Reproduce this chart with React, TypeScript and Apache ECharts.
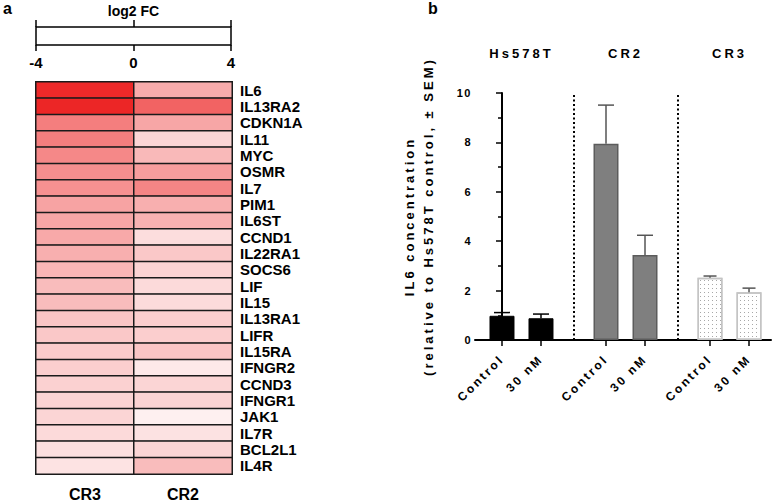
import React, { useEffect, useRef } from 'react';
import * as echarts from 'echarts';

// ---------- Panel a: heatmap data ----------
const genes = ['IL6', 'IL13RA2', 'CDKN1A', 'IL11', 'MYC', 'OSMR', 'IL7', 'PIM1', 'IL6ST', 'CCND1', 'IL22RA1', 'SOCS6', 'LIF', 'IL15', 'IL13RA1', 'LIFR', 'IL15RA', 'IFNGR2', 'CCND3', 'IFNGR1', 'JAK1', 'IL7R', 'BCL2L1', 'IL4R'];
const heatColumns = ['CR3', 'CR2'];
const log2fcCR3 = [3.5, 3.55, 2.1, 2.1, 1.95, 1.85, 1.8, 1.5, 1.45, 1.4, 1.3, 1.2, 1.1, 1.1, 0.95, 0.9, 0.85, 0.8, 0.75, 0.72, 0.68, 0.6, 0.52, 0.45];
const log2fcCR2 = [1.35, 2.55, 1.45, 0.68, 1.15, 1.6, 2.0, 1.3, 1.25, 0.55, 0.9, 0.72, 0.6, 0.58, 0.8, 0.8, 0.95, 0.36, 0.68, 0.72, 0.24, 0.48, 0.68, 1.1];
const scaleMin = -4;
const scaleMax = 4;
const scaleStep = 4;

// ---------- Panel b: bar data ----------
const cellLines = ['Hs578T', 'CR2', 'CR3'];
const treatments = ['Control', '30 nM'];
const il6Mean = [0.98, 0.88, 7.95, 3.44, 2.52, 1.93];
const il6Sem = [0.13, 0.17, 1.56, 0.8, 0.07, 0.17];
const yTitle = 'IL6 concentration\n(relative to Hs578T control, ± SEM)';

const FONT = '"Liberation Sans", Arial, sans-serif';
const GROUP_STEP = 8 / 3;
const X_MIN = -0.692;
const X_MAX = 6.897;

const groupStyles = [
  { color: '#000000', borderColor: '#000000', borderWidth: 1 },
  { color: '#7f7f7f', borderColor: '#5c5c5c', borderWidth: 1.5 },
  {
    color: '#ffffff', borderColor: '#c4c4c4', borderWidth: 1.5,
    decal: { symbol: 'rect', symbolSize: 1, color: '#a8a8a8', backgroundColor: '#ffffff', dashArrayX: [1, 3], dashArrayY: [1, 3] },
  },
];
const errColors = ['#000000', '#555555', '#555555'];
const capHalf = [8, 8, 6.5];

export default function App() {
  const ref = useRef<HTMLDivElement>(null);

  useEffect(() => {
    if (!ref.current) return;
    const chart = echarts.init(ref.current, undefined, { renderer: 'svg' });

    const heatData: any[] = [];
    genes.forEach((g, i) => {
      heatData.push([0, i, log2fcCR3[i]]);
      heatData.push([1, i, log2fcCR2[i]]);
    });

    const positions: number[] = [];
    const barData: any[] = [];
    const errData: any[] = [];
    cellLines.forEach((cl, g) => {
      treatments.forEach((t, i) => {
        const k = g * treatments.length + i;
        const pos = g * GROUP_STEP + i;
        positions.push(pos);
        barData.push({ value: [pos, il6Mean[k]], itemStyle: groupStyles[g] });
        errData.push([pos, il6Mean[k], il6Sem[k], g]);
      });
    });
    const groupCenters = cellLines.map((_, g) => g * GROUP_STEP + (treatments.length - 1) / 2);
    const separators = cellLines.slice(1).map((_, g) => (g * GROUP_STEP + (treatments.length - 1) + (g + 1) * GROUP_STEP) / 2);

    const nearestIdx = (arr: number[], v: number) => {
      let best = 0;
      arr.forEach((p, i) => { if (Math.abs(p - v) < Math.abs(arr[best] - v)) best = i; });
      return best;
    };

    const boldText = { fontFamily: FONT, fontWeight: 'bold' as const, color: '#000' };

    const option: any = {
      animation: false,
      textStyle: { fontFamily: FONT },
      title: [
        { text: 'a', left: 3, top: 0, padding: 0, textStyle: { ...boldText, fontSize: 16 } },
        { text: 'b', left: 428, top: 0, padding: 0, textStyle: { ...boldText, fontSize: 16 } },
      ],
      grid: [
        { left: 36, top: 82, width: 196, height: 392, show: true, borderColor: '#000', borderWidth: 2, containLabel: false },
        { left: 36, top: 27, width: 195, height: 18, show: true, borderColor: '#000', borderWidth: 1.5, backgroundColor: '#fff', containLabel: false },
        { left: 475, right: 6, top: 93, height: 247, containLabel: false },
      ],
      visualMap: {
        show: false,
        seriesIndex: 0,
        min: scaleMin,
        max: scaleMax,
        inRange: { color: ['#1a1aff', '#ffffff', '#ea0a0a'] },
      },
      xAxis: [
        {
          gridIndex: 0, type: 'category', data: heatColumns, position: 'bottom',
          axisLine: { show: false }, axisTick: { show: false },
          axisLabel: { ...boldText, fontSize: 16, margin: 12 },
          splitLine: { show: false },
        },
        {
          gridIndex: 1, type: 'value', min: scaleMin, max: scaleMax, interval: scaleStep, position: 'bottom',
          axisLine: { show: false },
          axisTick: { show: true, length: 6, lineStyle: { color: '#000', width: 1.5 } },
          axisLabel: { ...boldText, fontSize: 15, margin: 10 },
          splitLine: { show: false },
        },
        {
          gridIndex: 1, type: 'value', min: scaleMin, max: scaleMax, interval: scaleStep, position: 'top',
          name: 'log2 FC', nameLocation: 'middle', nameGap: 9,
          nameTextStyle: { ...boldText, fontSize: 14 },
          axisLine: { show: false },
          axisTick: { show: true, length: 7, lineStyle: { color: '#000', width: 1.5 } },
          axisLabel: { show: false },
          splitLine: { show: false },
        },
        {
          gridIndex: 2, type: 'value', min: X_MIN, max: X_MAX, position: 'bottom',
          axisLine: { show: true, onZero: false, lineStyle: { color: '#000', width: 2 } },
          axisTick: { show: true, customValues: positions, length: 6, lineStyle: { color: '#000', width: 1.5 } },
          axisLabel: {
            customValues: positions, rotate: 45, margin: 17, ...boldText, fontSize: 12,
            formatter: (v: number) => treatments[nearestIdx(positions, v) % treatments.length],
          },
          splitLine: { show: false },
          minorTick: { show: false },
        },
        {
          gridIndex: 2, type: 'value', min: X_MIN, max: X_MAX, position: 'top',
          axisLine: { show: false }, axisTick: { show: false },
          axisLabel: {
            customValues: groupCenters, margin: 33, ...boldText, fontSize: 13,
            formatter: (v: number) => cellLines[nearestIdx(groupCenters, v)],
          },
          splitLine: { show: false },
        },
      ],
      yAxis: [
        {
          gridIndex: 0, type: 'category', data: genes, inverse: true, position: 'right',
          axisLine: { show: false }, axisTick: { show: false },
          axisLabel: { ...boldText, fontSize: 15, margin: 8, interval: 0 },
          splitLine: { show: false },
        },
        {
          gridIndex: 1, type: 'value', min: 0, max: 1, show: false,
        },
        {
          gridIndex: 2, type: 'value', min: 0, max: 10, interval: 2,
          name: yTitle, nameLocation: 'middle', nameGap: 37.5,
          nameTextStyle: { ...boldText, fontSize: 13, lineHeight: 19 },
          axisLine: { show: true, lineStyle: { color: '#000', width: 2 } },
          axisTick: { show: true, length: 6, lineStyle: { color: '#000', width: 1.5 } },
          minorTick: { show: true, splitNumber: 2, length: 4, lineStyle: { color: '#000', width: 1.5 } },
          axisLabel: { ...boldText, fontSize: 11, margin: 3 },
          splitLine: { show: false },
        },
      ],
      series: [
        {
          type: 'heatmap', xAxisIndex: 0, yAxisIndex: 0, data: heatData,
          itemStyle: { borderColor: '#1a1a1a', borderWidth: 1.5 },
          emphasis: { disabled: true },
        },
        {
          type: 'bar', xAxisIndex: 3, yAxisIndex: 2, data: barData, barWidth: 25,
          markLine: {
            silent: true, symbol: 'none', label: { show: false },
            lineStyle: { color: '#000', type: [2, 2.5], width: 2 },
            data: separators.map((s) => [{ coord: [s, 0] }, { coord: [s, 10] }]),
          },
        },
        {
          type: 'custom', xAxisIndex: 3, yAxisIndex: 2, data: errData, z: 3,
          encode: { x: 0, y: [1, 2] },
          renderItem: (params: any, api: any) => {
            const x = api.value(0);
            const m = api.value(1);
            const s = api.value(2);
            const g = api.value(3);
            const base = api.coord([x, m]);
            const top = api.coord([x, m + s]);
            const c = errColors[g];
            const h = capHalf[g];
            return {
              type: 'group',
              children: [
                { type: 'line', shape: { x1: base[0], y1: base[1], x2: top[0], y2: top[1] }, style: { stroke: c, lineWidth: 1.5 } },
                { type: 'line', shape: { x1: top[0] - h, y1: top[1], x2: top[0] + h, y2: top[1] }, style: { stroke: c, lineWidth: 1.5 } },
              ],
            };
          },
        },
      ],
    };

    chart.setOption(option);

    // letter-spaced lettering of panel b (as in the original figure)
    const applySpacing = () => {
      const svg = ref.current?.querySelector('svg');
      if (!svg) return;
      svg.querySelectorAll('text').forEach((t) => {
        const r = t.getBoundingClientRect();
        if (r.left < 390) return;
        const s = (t.textContent || '').trim();
        let ls = 0;
        if (cellLines.includes(s)) ls = 3;
        else if (treatments.includes(s)) ls = 2.5;
        else if (s.startsWith('IL6 conc') || s.startsWith('(relative')) ls = 3;
        else if (/^\d+$/.test(s)) ls = 1.5;
        if (ls) t.setAttribute('letter-spacing', String(ls));
      });
    };
    applySpacing();

    return () => chart.dispose();
  }, []);

  return <div ref={ref} style={{ position: 'fixed', left: 0, top: 0, width: 777, height: 502, background: '#fff' }} />;
}
